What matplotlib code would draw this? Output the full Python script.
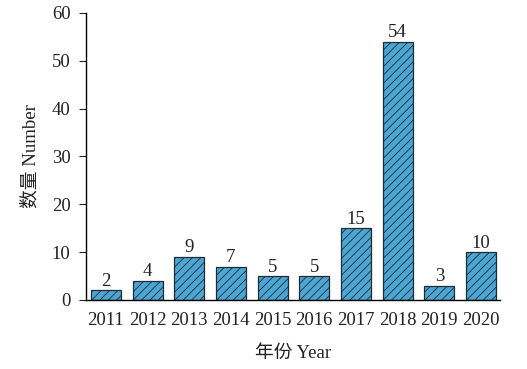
import matplotlib.pyplot as plt

years = ['2011', '2012', '2013', '2014', '2015', '2016', '2017', '2018', '2019', '2020']
counts = [2, 4, 9, 7, 5, 5, 15, 54, 3, 10]

plt.rcParams['font.family'] = ['Liberation Serif', 'Noto Sans CJK SC']
plt.rcParams['hatch.linewidth'] = 0.6
plt.rcParams['hatch.color'] = '#1f3447'

fig = plt.figure(figsize=(5.27, 3.69), dpi=100)
ax = fig.add_axes([0.163, 0.187, 0.786, 0.778])

x = range(len(years))
bars = ax.bar(x, counts, width=0.72, color='#4ba6d3', edgecolor='#1f2a33',
              linewidth=0.9, hatch='////')
for xi, c in zip(x, counts):
    ax.text(xi, c + 0.1, str(c), ha='center', va='bottom', fontsize=13.5, color='#222222')

ax.set_xlim(-0.48, 9.46)
ax.set_ylim(0, 60)
ax.set_xticks(list(x))
ax.set_xticklabels(years)
ax.set_yticks(range(0, 61, 10))
ax.tick_params(axis='x', length=0, pad=9, labelsize=13.5, colors='#222222')
ax.tick_params(axis='y', direction='out', length=5, pad=6, labelsize=13.5, colors='#222222')
for s in ['top', 'right']:
    ax.spines[s].set_visible(False)
ax.spines['left'].set_linewidth(1.0)
ax.spines['bottom'].set_linewidth(1.0)

ax.set_xlabel('年份 Year', fontsize=13.5, color='#222222', labelpad=11)
ax.set_ylabel('数量 Number', fontsize=13.5, color='#222222', labelpad=9)

plt.savefig('out.png', dpi=100)
